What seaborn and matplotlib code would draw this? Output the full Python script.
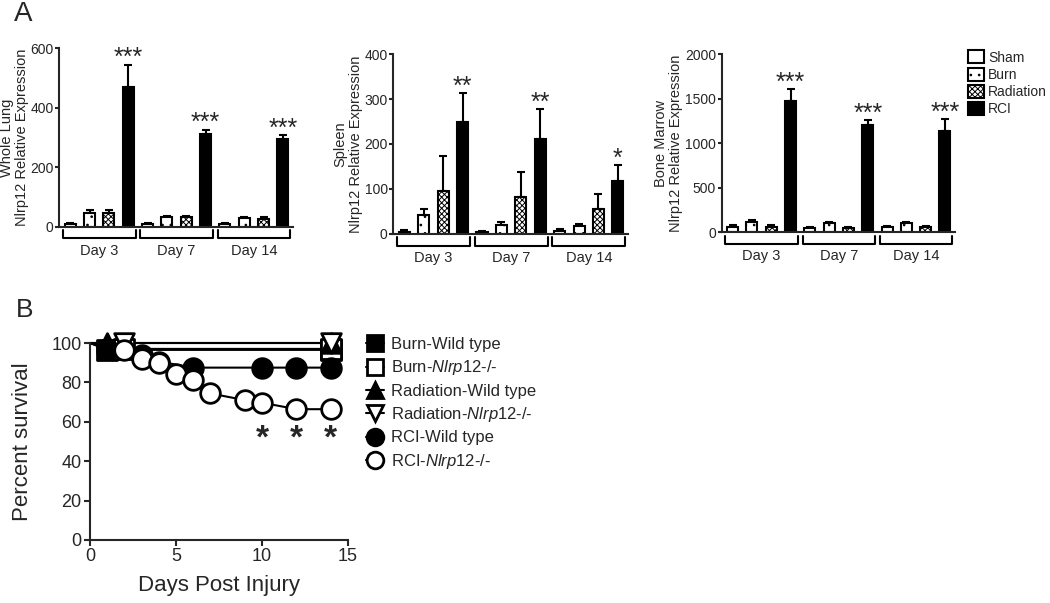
import numpy as np
import pandas as pd
import matplotlib
matplotlib.use("Agg")
import matplotlib.pyplot as plt
import seaborn as sns
from matplotlib.patches import Patch
from matplotlib.lines import Line2D

# ---- data ----
days = ["Day 3", "Day 7", "Day 14"]
treatments = ["Sham", "Burn", "Radiation", "RCI"]

lung_mean = [8, 45, 47, 470, 10, 31, 31, 313, 8, 29, 27, 296]
lung_err = [5, 11, 9, 75, 3, 5, 5, 13, 3, 5, 5, 11]
lung_stars = ["***", "***", "***"]

spleen_mean = [4, 41, 96, 248, 4, 20, 81, 211, 6, 17, 54, 118]
spleen_err = [5, 13, 77, 66, 3, 7, 57, 66, 4, 5, 34, 35]
spleen_stars = ["**", "**", "*"]

marrow_mean = [60, 120, 60, 1473, 52, 105, 50, 1207, 58, 100, 58, 1136]
marrow_err = [20, 15, 18, 131, 12, 11, 10, 53, 10, 18, 10, 135]
marrow_stars = ["***", "***", "***"]

surv_groups = ["Burn-Wild type", "Burn-$\\mathit{Nlrp12}$-/-", "Radiation-Wild type",
               "Radiation-$\\mathit{Nlrp12}$-/-", "RCI-Wild type", "RCI-$\\mathit{Nlrp12}$-/-"]
burn_wt_days = [0, 1, 14]
burn_wt_surv = [100, 96.5, 96.5]
burn_ko_days = [0, 2, 14]
burn_ko_surv = [100, 97, 97]
rad_wt_days = [0, 1, 14]
rad_wt_surv = [100, 100, 100]
rad_ko_days = [0, 2, 14]
rad_ko_surv = [100, 100, 100]
rci_wt_days = [0, 1, 3, 4, 6, 10, 12, 14]
rci_wt_surv = [100, 96.9, 93.8, 90.6, 87.5, 87.5, 87.5, 87.5]
rci_ko_days = [0, 2, 3, 4, 5, 6, 7, 9, 10, 12, 14]
rci_ko_surv = [100, 96.5, 91.8, 90.1, 84.2, 81.3, 74.4, 71.0, 69.7, 66.4, 66.4]
star_days = [10, 12, 14]
star_y = [47, 47, 47]

# ---- style ----
sns.set_style("ticks")
plt.rcParams["font.family"] = ["Liberation Sans", "DejaVu Sans"]
plt.rcParams["mathtext.fontset"] = "custom"
plt.rcParams["mathtext.it"] = "Liberation Sans:italic"
plt.rcParams["mathtext.rm"] = "Liberation Sans"
plt.rcParams["hatch.linewidth"] = 0.7

W, H = 1050, 603
fig = plt.figure(figsize=(W / 100, H / 100), dpi=100)


def px_axes(l, t, r, b):
    return fig.add_axes([l / W, 1 - b / H, (r - l) / W, (b - t) / H])


bar_colors = {"Sham": "white", "Burn": "white", "Radiation": "white", "RCI": "black"}
bar_hatch = {"Sham": "", "Burn": "..", "Radiation": "xxxxxx", "RCI": ""}


def draw_bars(ax, means, errs, stars, ymax, yticks, ylabel, label_x):
    slots = [f"{d}|{t}" for d in days for t in treatments]
    df = pd.DataFrame({"slot": slots, "treatment": treatments * 3, "value": means})
    sns.barplot(data=df, x="slot", y="value", hue="treatment", order=slots,
                hue_order=treatments, palette=bar_colors, dodge=False, width=0.57,
                saturation=1, edgecolor="black", linewidth=1.5, errorbar=None,
                legend=False, ax=ax)
    for cont, t in zip(ax.containers, treatments):
        for bar in cont:
            bar.set_hatch(bar_hatch[t])
    pos = np.arange(len(means))
    ax.errorbar(pos, means, yerr=[np.zeros(len(errs)), errs], fmt="none",
                ecolor="black", elinewidth=1.5, capsize=3, capthick=1.5, zorder=0.5)
    tops = np.array(means) + np.array(errs)
    for k, s in enumerate(stars):
        i = 4 * k + 3
        ax.annotate(s, xy=(pos[i], tops[i]), xytext=(0, -4), textcoords="offset points",
                    ha="center", va="bottom", fontsize=18)
    ax.set_xlim(-0.57, 11.52)
    ax.set_ylim(0, ymax)
    ax.set_yticks(yticks)
    ax.set_xticks([])
    ax.set_xlabel("")
    ax.set_ylabel(ylabel, fontsize=10.5, linespacing=1.1)
    ax.yaxis.set_label_coords(label_x, 0.5)
    ax.tick_params(axis="y", labelsize=10, width=1.5, length=3, pad=1)
    for sp in ["left", "bottom"]:
        ax.spines[sp].set_linewidth(1.5)
    sns.despine(ax=ax)
    trans = ax.get_xaxis_transform()
    for k, d in enumerate(days):
        c = 1.5 + 4 * k
        x0, x1 = c - 1.88, c + 1.88
        ax.plot([x0, x0, x1, x1], [-0.02, -0.066, -0.066, -0.02], transform=trans,
                color="black", lw=1.5, clip_on=False)
        ax.text(c, -0.135, d, transform=trans, ha="center", va="center", fontsize=10.5)


ax1 = px_axes(59.3, 48.3, 293, 226.7)
draw_bars(ax1, lung_mean, lung_err, lung_stars, 600, [0, 200, 400, 600],
          "Whole Lung\nNlrp12 Relative Expression", -0.13)
ax2 = px_axes(393.3, 54.3, 628, 233.7)
draw_bars(ax2, spleen_mean, spleen_err, spleen_stars, 400, [0, 100, 200, 300, 400],
          "Spleen\nNlrp12 Relative Expression", -0.13)
ax3 = px_axes(721.7, 54, 955, 232.3)
draw_bars(ax3, marrow_mean, marrow_err, marrow_stars, 2000, [0, 500, 1000, 1500, 2000],
          "Bone Marrow\nNlrp12 Relative Expression", -0.165)

handles = [Patch(facecolor=bar_colors[t], edgecolor="black", hatch=bar_hatch[t], linewidth=1.5)
           for t in treatments]
ax3.legend(handles, treatments, loc="upper left", bbox_to_anchor=(1.055, 1.02),
           frameon=False, fontsize=10, handlelength=1.2, handleheight=1.05,
           handletextpad=0.25, labelspacing=0.22, borderpad=0, borderaxespad=0)

# ---- panel B ----
axb = px_axes(90, 343, 348, 540)
curves = [
    (burn_wt_days, burn_wt_surv, "s", "black"),
    (burn_ko_days, burn_ko_surv, "s", "white"),
    (rad_wt_days, rad_wt_surv, "^", "black"),
    (rad_ko_days, rad_ko_surv, "v", "white"),
    (rci_wt_days, rci_wt_surv, "o", "black"),
    (rci_ko_days, rci_ko_surv, "o", "white"),
]
rows = []
for name, (d, s, m, fc) in zip(surv_groups, curves):
    for dd, ss in zip(d, s):
        rows.append({"group": name, "day": dd, "surv": ss})
surv_df = pd.DataFrame(rows)
sns.lineplot(data=surv_df, x="day", y="surv", hue="group", hue_order=surv_groups,
             palette=["black"] * 6, estimator=None, sort=False, lw=1.5,
             legend=False, ax=axb, clip_on=False)
for name, (d, s, m, fc) in zip(surv_groups, curves):
    sns.scatterplot(x=d[1:], y=s[1:], marker=m, s=200, color=fc, edgecolor="black",
                    linewidth=2, ax=axb, clip_on=False, zorder=3, legend=False)
for x, y in zip(star_days, star_y):
    axb.text(x, y, "*", ha="center", va="baseline", fontsize=24, fontweight="bold")

axb.set_xlim(0, 15)
axb.set_ylim(0, 100)
axb.set_xticks([0, 5, 10, 15])
axb.set_yticks([0, 20, 40, 60, 80, 100])
axb.tick_params(labelsize=13, width=1.5, length=4, pad=2)
for sp in ["left", "bottom"]:
    axb.spines[sp].set_linewidth(1.5)
sns.despine(ax=axb)
axb.set_xlabel("Days Post Injury", fontsize=16, labelpad=7)
axb.set_ylabel("Percent survival", fontsize=16)
axb.yaxis.set_label_coords(-0.22, 0.5)

leg_handles = [Line2D([], [], color="black", lw=1.5, marker=m, markersize=12,
                      markerfacecolor=fc, markeredgecolor="black", markeredgewidth=2)
               for (d, s, m, fc) in curves]
axb.legend(leg_handles, surv_groups, loc="upper left", bbox_to_anchor=(1.07, 1.03),
           frameon=False, fontsize=12, handlelength=1.1, handletextpad=0.4,
           labelspacing=0.38, borderpad=0, borderaxespad=0)

fig.text(14 / W, 1 - 14 / H, "A", fontsize=20, va="center", ha="left")
fig.text(16 / W, 1 - 310 / H, "B", fontsize=19, va="center", ha="left")

fig.savefig("out.png", dpi=100)
